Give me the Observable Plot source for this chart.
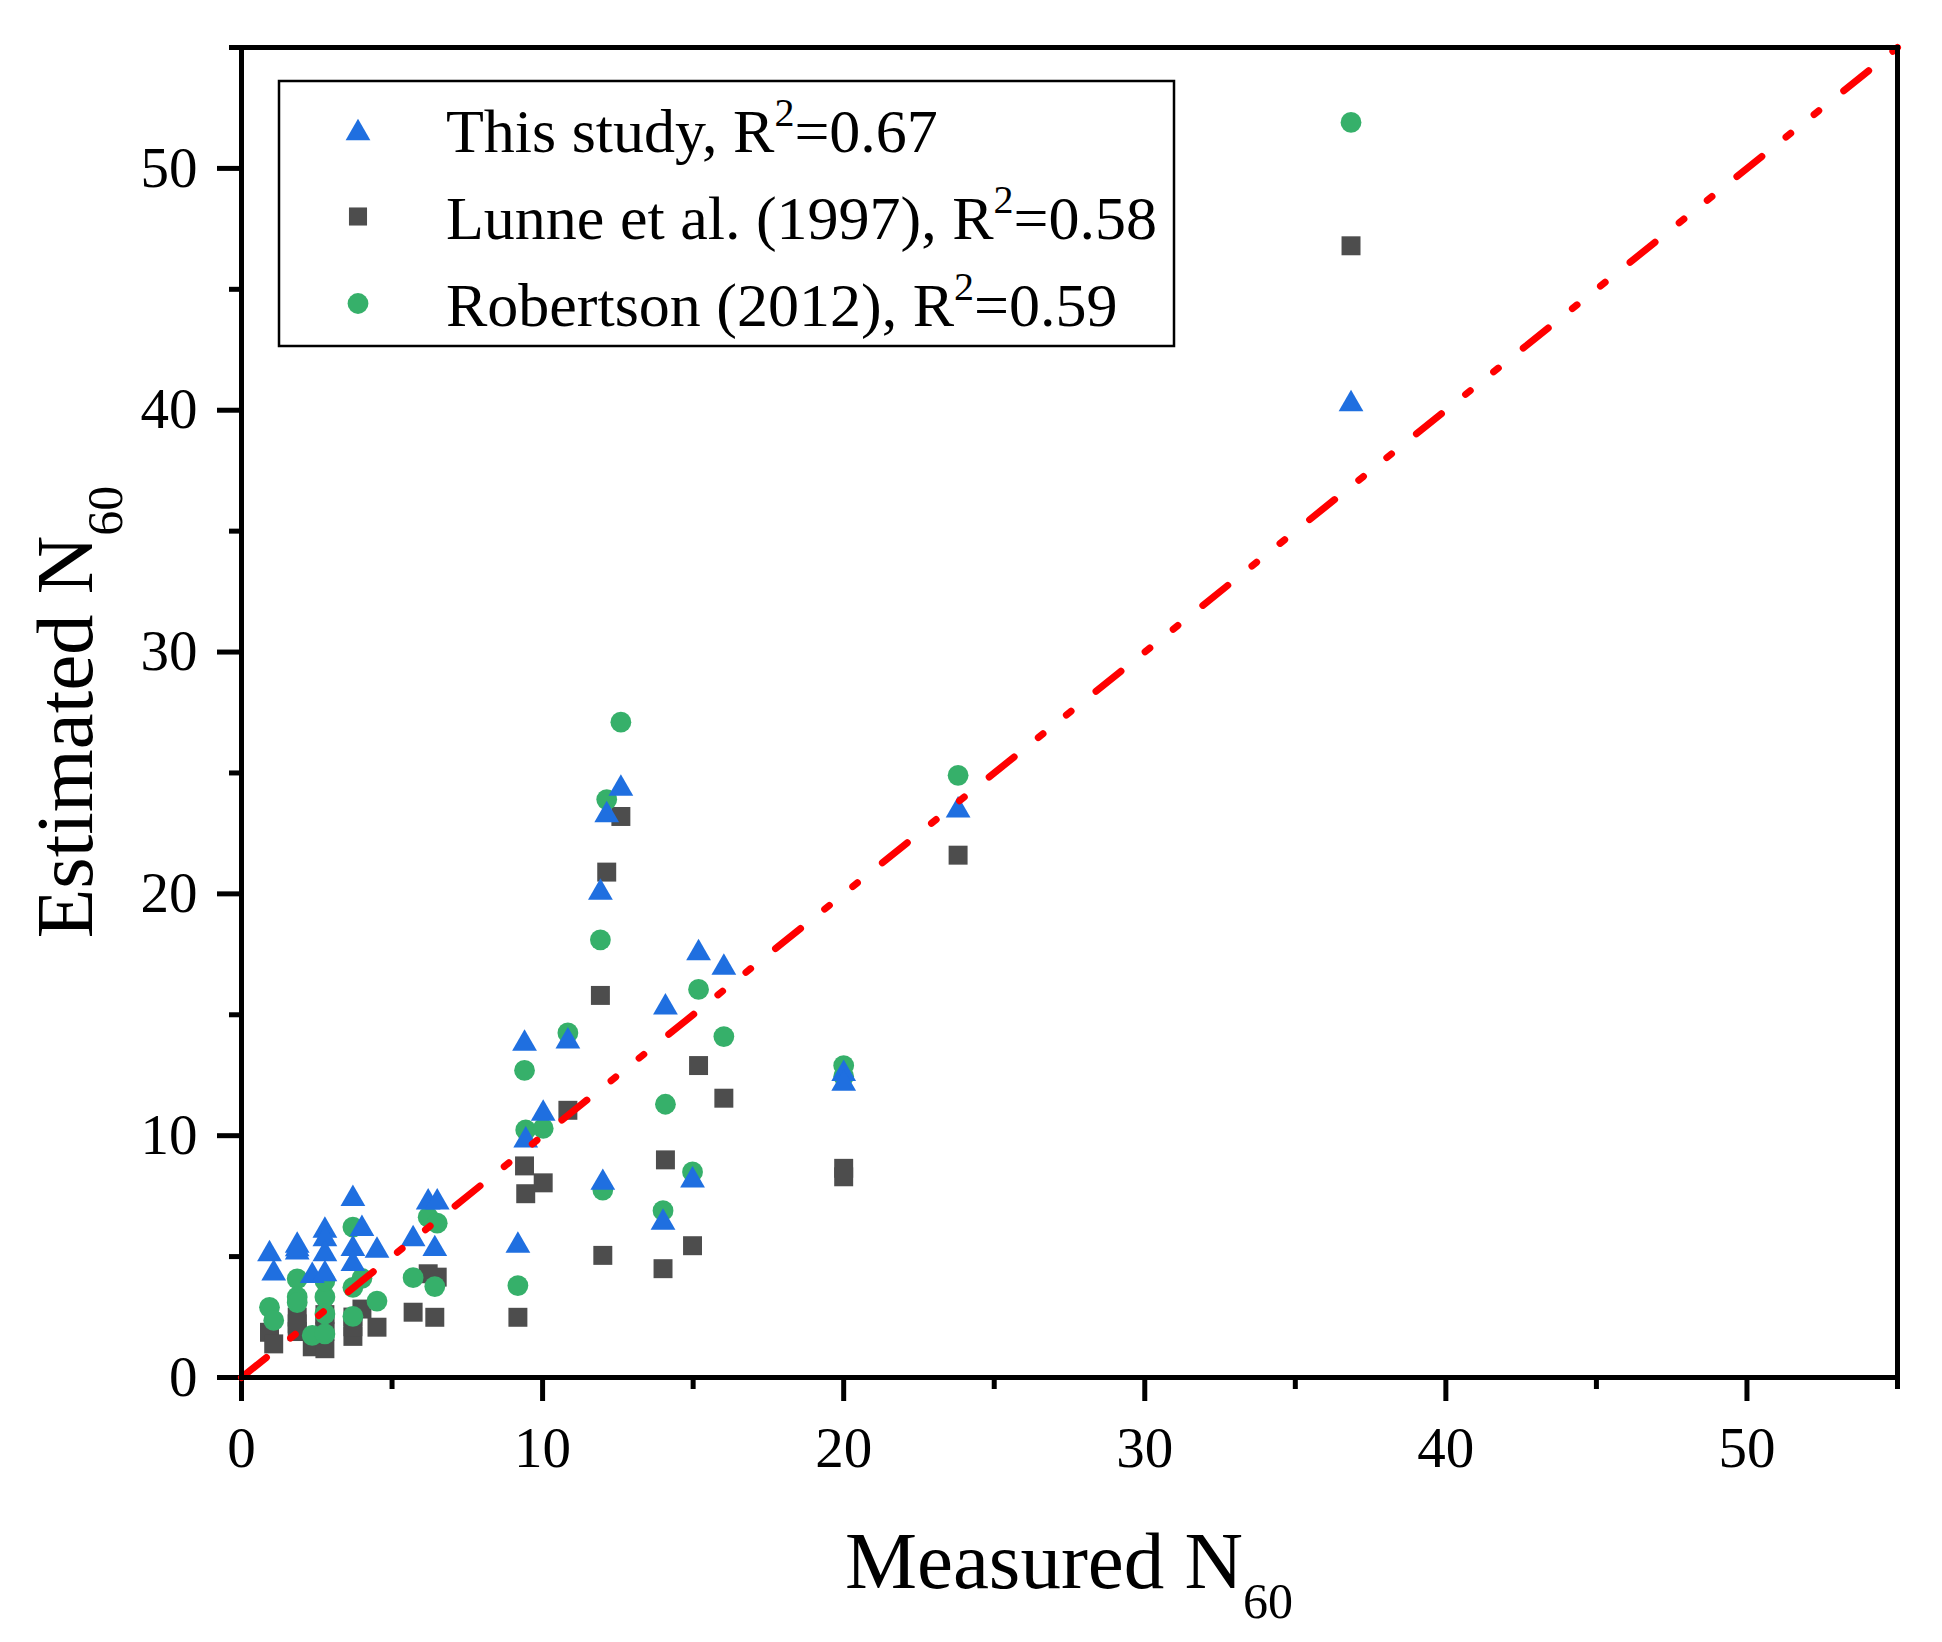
<!DOCTYPE html>
<html>
<head>
<meta charset="utf-8">
<script src="https://cdn.jsdelivr.net/npm/d3@7"></script>
<script src="https://cdn.jsdelivr.net/npm/@observablehq/plot@0.6"></script>
<style>
  body { margin: 0; background: #fff; }
  #chart svg { display: block; }
</style>
</head>
<body>
<div id="chart"></div>
<script>
// ---- Data ----
const measured  = [0.93, 1.07, 1.85, 1.85, 1.85, 2.35, 2.77, 2.77, 2.77, 2.77, 3.70, 3.70, 3.70, 4.00, 4.50, 5.70, 6.20, 6.50, 6.42, 9.18, 9.40, 9.44, 10.02, 10.84, 11.92, 12.00, 12.13, 12.60, 14.00, 14.08, 14.98, 15.18, 16.02, 20.00, 20.00, 23.80, 36.85];
const thisStudy = [5.25, 4.45, 5.60, 5.32, 5.45, 4.35, 6.22, 5.87, 5.25, 4.42, 7.53, 5.46, 4.84, 6.29, 5.39, 5.87, 7.39, 7.39, 5.46, 5.60, 13.95, 9.95, 11.06, 14.05, 20.20, 8.20, 23.40, 24.50, 6.55, 15.45, 8.30, 17.70, 17.10, 12.70, 12.30, 23.60, 40.40];
const lunne     = [1.87, 1.39, 2.50, 2.22, 1.90, 1.27, 1.19, 2.60, 2.20, 1.90, 2.50, 1.70, 2.10, 2.83, 2.08, 2.70, 4.29, 4.15, 2.49, 2.49, 8.75, 7.60, 8.05, 11.05, 15.80, 5.05, 20.90, 23.20, 4.50, 9.00, 5.45, 12.90, 11.55, 8.65, 8.30, 21.60, 46.80];
const robertson = [2.90, 2.36, 4.08, 3.33, 3.10, 1.74, 1.80, 3.33, 2.63, 4.00, 6.22, 3.73, 2.53, 4.10, 3.16, 4.13, 6.63, 6.38, 3.76, 3.80, 12.70, 10.24, 10.30, 14.25, 18.10, 7.75, 23.90, 27.10, 6.90, 11.30, 8.50, 16.05, 14.10, 12.90, 12.45, 24.90, 51.90];

const majorTicks = [0, 10, 20, 30, 40, 50];
const minorTicks = [5, 15, 25, 35, 45, 55];
const refLine = [0, 55];           // 1:1 line, y = x
const seriesNames = ["This study", "Lunne et al. (1997)", "Robertson (2012)"];
const seriesR2 = ["0.67", "0.58", "0.59"];
const xTitle = ["Measured N", "60"];
const yTitle = ["Estimated N", "60"];

// ---- Build table ----
const rows = measured.map((m, i) => ({ m, t: thisStudy[i], l: lunne[i], r: robertson[i] }));
const line = refLine.map(v => ({ x: v, y: v }));

const font = "'Liberation Serif','Times New Roman',Times,serif";
const W = 1942, H = 1642, mL = 241, mR = 45, mT = 47, mB = 265;
const colT = "#1f6fe0", colS = "#4d4d4d", colG = "#36b06a", colLine = "#ff0000";
const axW = 5;

const chart = Plot.plot({
  width: W, height: H,
  marginLeft: mL, marginRight: mR, marginTop: mT, marginBottom: mB,
  style: { fontFamily: font, background: "#fff", color: "#000", overflow: "visible" },
  x: { domain: [0, 55], label: null },
  y: { domain: [0, 55], label: null },
  marks: [
    Plot.axisX({ ticks: majorTicks, tickSize: 24, tickPadding: 25, fontSize: 57, strokeWidth: axW, label: null }),
    Plot.axisX({ ticks: minorTicks, tickSize: 12, text: null, strokeWidth: axW, label: null }),
    Plot.axisY({ ticks: majorTicks, tickSize: 24, tickPadding: 20, fontSize: 57, strokeWidth: axW, label: null }),
    Plot.axisY({ ticks: minorTicks, tickSize: 12, text: null, strokeWidth: axW, label: null }),
    Plot.dot(rows, { x: "m", y: "l", symbol: "square", r: 10.7, fill: colS, stroke: null }),
    Plot.dot(rows, { x: "m", y: "r", symbol: "circle", r: 10.4, fill: colG, stroke: null }),
    Plot.dot(rows, { x: "m", y: "t", symbol: "triangle", r: 9.2, fill: colT, stroke: null, dy: 3.5 }),
    Plot.line(line, { x: "x", y: "y", stroke: colLine, strokeWidth: 7, strokeLinecap: "round",
                      strokeDasharray: "32,31,6,30,6,32" }),
    Plot.frame({ stroke: "#000", strokeWidth: axW })
  ]
});
document.getElementById("chart").appendChild(chart);

// ---- Titles and legend (added into the same SVG) ----
const svg = d3.select(chart);

const xt = svg.append("text")
  .attr("x", (mL + (W - mR)) / 2).attr("y", 1588)
  .attr("text-anchor", "middle")
  .style("font-family", font).style("font-size", "81px").attr("fill", "#000");
xt.append("tspan").text(xTitle[0]);
xt.append("tspan").attr("dy", 30).style("font-size", "50px").text(xTitle[1]);

const yt = svg.append("text")
  .attr("transform", `translate(92,${(mT + (H - mB)) / 2}) rotate(-90)`)
  .attr("text-anchor", "middle")
  .style("font-family", font).style("font-size", "81px").attr("fill", "#000");
yt.append("tspan").text(yTitle[0]);
yt.append("tspan").attr("dy", 30).style("font-size", "50px").text(yTitle[1]);

// Legend box
const lg = svg.append("g").attr("text-anchor", "start");
lg.append("rect")
  .attr("x", 279).attr("y", 81).attr("width", 895).attr("height", 265)
  .attr("fill", "#fff").attr("stroke", "#000").attr("stroke-width", 2.5);

const legSymbols = [
  { sym: d3.symbolTriangle, size: Math.PI * 9.2 * 9.2, color: colT, dy: 3.5 },
  { sym: d3.symbolSquare, size: Math.PI * 10.2 * 10.2, color: colS, dy: 0 },
  { sym: d3.symbolCircle, size: Math.PI * 10.4 * 10.4, color: colG, dy: 0 }
];
const legRowY = [129.5, 216.5, 303.5];
seriesNames.forEach((name, i) => {
  const s = legSymbols[i];
  lg.append("path")
    .attr("d", d3.symbol(s.sym, s.size)())
    .attr("transform", `translate(358,${legRowY[i] + s.dy})`)
    .attr("fill", s.color);
  const t = lg.append("text")
    .attr("x", 446).attr("y", legRowY[i] + 22.5)
    .attr("text-anchor", "start")
    .style("text-anchor", "start")
    .style("font-family", font).style("font-size", "62px").attr("fill", "#000");
  t.append("tspan").text(`${name}, R`);
  t.append("tspan").attr("dy", -26).style("font-size", "40px").text("2");
  t.append("tspan").attr("dy", 26).text(`=${seriesR2[i]}`);
});
</script>
</body>
</html>
